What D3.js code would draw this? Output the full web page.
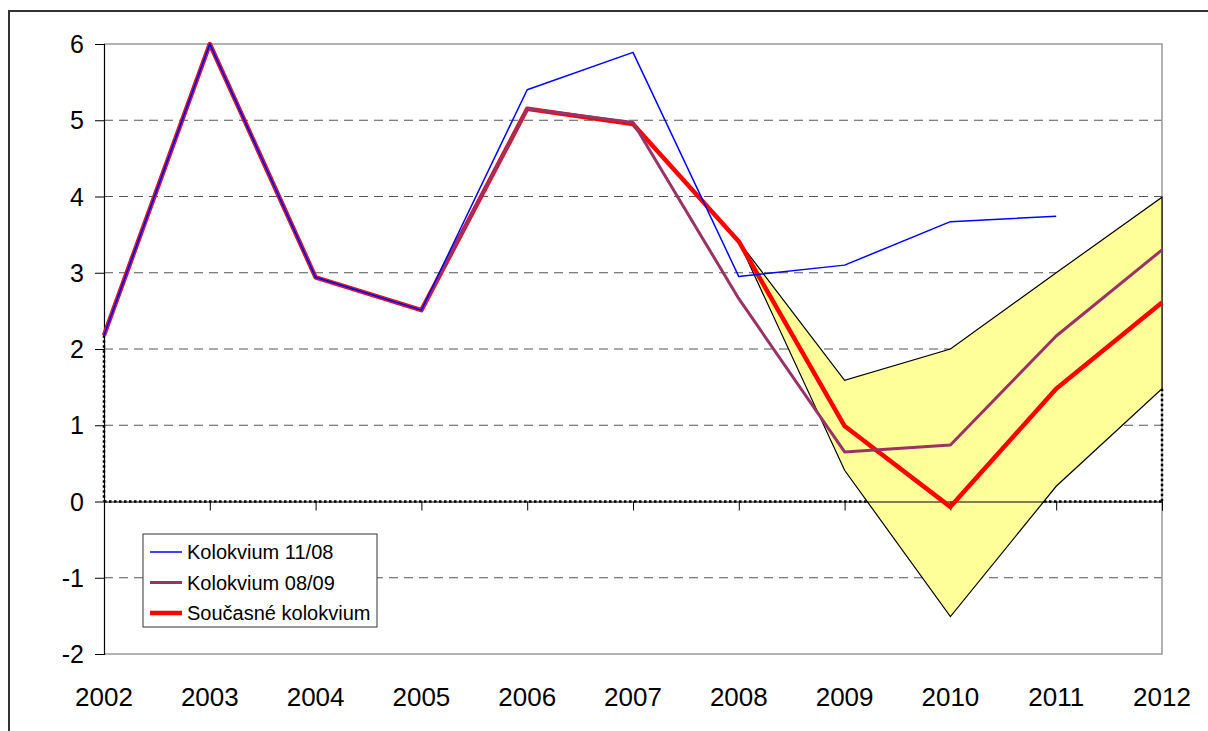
<!DOCTYPE html>
<html>
<head>
<meta charset="utf-8">
<script src="https://cdn.jsdelivr.net/npm/d3@7"></script>
<style>
  html, body { margin: 0; padding: 0; background: #fff; }
  svg { display: block; }
  text { font-family: "Liberation Sans", Arial, sans-serif; fill: #000; }
</style>
</head>
<body>
<svg id="chart" width="1208" height="731"></svg>
<script>
const years = ["2002","2003","2004","2005","2006","2007","2008","2009","2010","2011","2012"];
const yTicks = [-2,-1,0,1,2,3,4,5,6];
const kolokvium1108 = [2.18, 6.0, 2.94, 2.51, 5.40, 5.89, 2.95, 3.10, 3.67, 3.74, null];
const kolokvium0809 = [2.18, 6.0, 2.94, 2.51, 5.15, 4.97, 2.66, 0.65, 0.74, 2.17, 3.30];
const soucasne      = [2.18, 6.0, 2.94, 2.51, 5.15, 4.95, 3.41, 0.99, -0.07, 1.48, 2.61];
const bandYears = ["2008","2009","2010","2011","2012"];
const bandUpper = [3.41, 1.59, 2.00, 3.00, 3.99];
const bandLower = [3.41, 0.41, -1.51, 0.20, 1.48];
const legendLabels = ["Kolokvium 11/08", "Kolokvium 08/09", "Současné kolokvium"];

(function () {
const svg = d3.select("#chart");
const pL = 104, pR = 1162, pT = 44, pB = 654;
const x = d3.scalePoint().domain(years).range([pL, pR]);
const y = d3.scaleLinear().domain([-2, 6]).range([pB, pT]);

// outer border
svg.append("path").attr("d", `M9,731 L9,11 L1208,11`)
  .attr("fill", "none").attr("stroke", "#333").attr("stroke-width", 2);

// gridlines
svg.append("g").selectAll("line")
  .data(yTicks.filter(d => d !== 0 && d !== 6 && d !== -2))
  .join("line")
  .attr("x1", pL).attr("x2", pR)
  .attr("y1", d => y(d)).attr("y2", d => y(d))
  .attr("stroke", "#555").attr("stroke-width", 1)
  .attr("stroke-dasharray", "9,6");

// plot area border (top, right, bottom) grey
svg.append("path")
  .attr("d", `M${pL},${y(6)} L${pR},${y(6)} L${pR},${y(-2)} L${pL},${y(-2)}`)
  .attr("fill", "none").attr("stroke", "#999").attr("stroke-width", 1.5);

// dotted outline of invisible base series
const dotG = svg.append("g").attr("fill", "none").attr("stroke", "#000")
  .attr("stroke-width", 2.5).attr("stroke-dasharray", "2.5,2.5");
dotG.append("line").attr("x1", pL).attr("x2", pR).attr("y1", y(0)).attr("y2", y(0));
dotG.append("line").attr("x1", x(years[0])).attr("x2", x(years[0]))
  .attr("y1", y(soucasne[0])).attr("y2", y(0));
dotG.append("line").attr("x1", x(years[years.length-1])).attr("x2", x(years[years.length-1]))
  .attr("y1", y(bandLower[bandLower.length-1])).attr("y2", y(0));

// band
const bandPts = bandYears.map((yr, i) => [x(yr), y(bandUpper[i])])
  .concat(bandYears.map((yr, i) => [x(yr), y(bandLower[i])]).reverse());
svg.append("path")
  .attr("d", d3.line()(bandPts) + "Z")
  .attr("fill", "#FFFF99").attr("stroke", "#000").attr("stroke-width", 1.2);

// category axis at zero
const xAxis = d3.axisBottom(x).tickSize(9).tickFormat("");
const xg = svg.append("g").attr("transform", `translate(0,${y(0)})`).call(xAxis);
xg.select(".domain").attr("stroke", "#000").attr("stroke-width", 1);
xg.selectAll(".tick line").attr("stroke", "#000");

// x labels at bottom
svg.append("g").selectAll("text").data(years).join("text")
  .attr("x", d => x(d)).attr("y", 706)
  .attr("text-anchor", "middle").attr("font-size", 26)
  .text(d => d);

// y axis
const yAxis = d3.axisLeft(y).tickValues(yTicks).tickSize(9).tickFormat("");
const yg = svg.append("g").attr("transform", `translate(${pL},0)`).call(yAxis);
yg.select(".domain").attr("stroke", "#000").attr("stroke-width", 1.2);
yg.selectAll(".tick line").attr("stroke", "#000");
svg.append("g").selectAll("text").data(yTicks).join("text")
  .attr("x", 84).attr("y", d => y(d) + 9)
  .attr("text-anchor", "end").attr("font-size", 25)
  .text(d => d);

// lines
const line = d3.line()
  .defined(d => d != null)
  .x((d, i) => x(years[i])).y(d => y(d));
svg.append("path").datum(soucasne).attr("d", line)
  .attr("fill", "none").attr("stroke", "#FF0000").attr("stroke-width", 4.5)
  .attr("stroke-linejoin", "round");
svg.append("path").datum(kolokvium0809).attr("d", line)
  .attr("fill", "none").attr("stroke", "#993366").attr("stroke-width", 3)
  .attr("stroke-linejoin", "round");
svg.append("path").datum(kolokvium1108).attr("d", line)
  .attr("fill", "none").attr("stroke", "#0000FF").attr("stroke-width", 1.5)
  .attr("stroke-linejoin", "round");

// legend
const lg = svg.append("g");
lg.append("rect").attr("x", 143).attr("y", 534).attr("width", 234).attr("height", 93)
  .attr("fill", "#fff").attr("stroke", "#333").attr("stroke-width", 1);
const legendColors = ["#0000FF", "#993366", "#FF0000"];
const legendWidths = [1.5, 3, 4.5];
legendLabels.forEach((lab, i) => {
  const cy = 552 + i * 30.5;
  lg.append("line").attr("x1", 150).attr("x2", 182).attr("y1", cy).attr("y2", cy)
    .attr("stroke", legendColors[i]).attr("stroke-width", legendWidths[i]);
  lg.append("text").attr("x", 187).attr("y", cy + 7).attr("font-size", 20).text(lab);
});
})();
</script>
</body>
</html>
